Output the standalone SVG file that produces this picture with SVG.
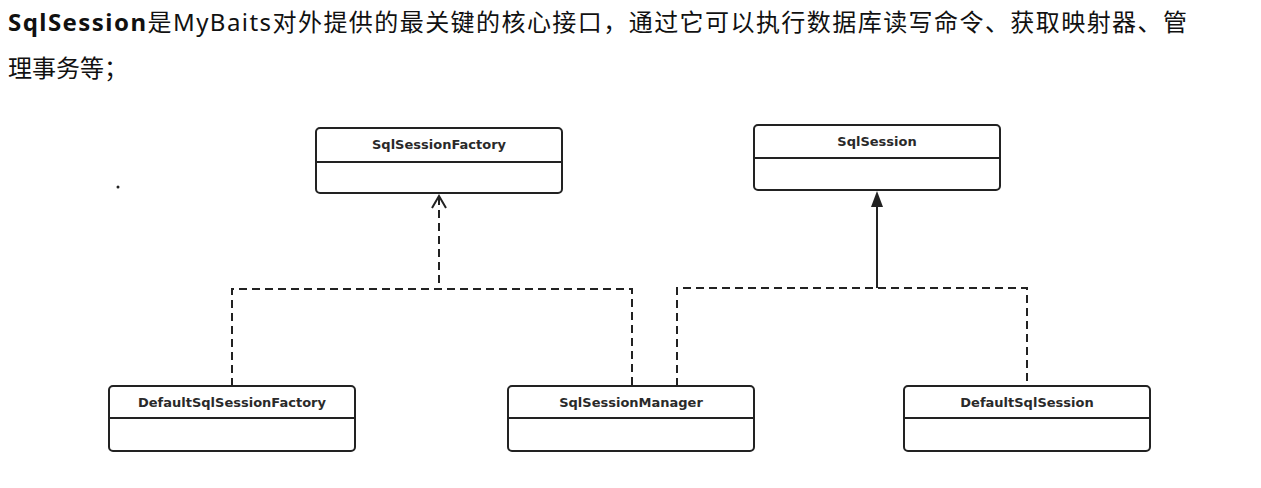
<svg xmlns="http://www.w3.org/2000/svg" width="1261" height="488" viewBox="0 0 1261 488">
<style>
.box{fill:#fff;stroke:#222;stroke-width:2}
.div{stroke:#222;stroke-width:2}
.lbl{font-family:"DejaVu Sans",Verdana,sans-serif;font-weight:bold;font-size:13px;fill:#2a2a2a;text-anchor:middle}
.title{font-family:"Noto Sans","Noto Sans CJK SC",sans-serif;font-size:24px;fill:#111}
.dash{fill:none;stroke:#222;stroke-width:2;stroke-dasharray:8 5}
.solid{fill:none;stroke:#222;stroke-width:2}
</style>
<rect width="1261" height="488" fill="#fff"/>
<g id="title">
<text class="title" x="8" y="31" textLength="1179" lengthAdjust="spacing"><tspan font-weight="bold">SqlSession</tspan>是MyBaits对外提供的最关键的核心接口，通过它可以执行数据库读写命令、获取映射器、管</text>
<text class="title" x="8" y="77">理事务等；</text>
</g>
<circle cx="118" cy="187" r="1.5" fill="#222"/>
<g id="connectors">
<path class="dash" d="M439,197 V289 M232,386 V289 H632 V386"/>
<path class="solid" d="M432,208 L439,196 L446,208"/>
<path class="solid" d="M877,205 V288"/>
<path class="dash" d="M677,386 V288 H1027 V386"/>
<polygon points="877,191 871,207 883,207" fill="#222"/>
</g>
<g id="SqlSessionFactory">
<rect class="box" x="316" y="128" width="246" height="65" rx="4"/>
<line class="div" x1="316" y1="162" x2="562" y2="162"/>
<text class="lbl" x="439" y="149">SqlSessionFactory</text>
</g>
<g id="SqlSession">
<rect class="box" x="754" y="125" width="246" height="65" rx="4"/>
<line class="div" x1="754" y1="158" x2="1000" y2="158"/>
<text class="lbl" x="877" y="146">SqlSession</text>
</g>
<g id="DefaultSqlSessionFactory">
<rect class="box" x="109" y="386" width="246" height="65" rx="4"/>
<line class="div" x1="109" y1="418" x2="355" y2="418"/>
<text class="lbl" x="232" y="407">DefaultSqlSessionFactory</text>
</g>
<g id="SqlSessionManager">
<rect class="box" x="508" y="386" width="246" height="65" rx="4"/>
<line class="div" x1="508" y1="418" x2="754" y2="418"/>
<text class="lbl" x="631" y="407">SqlSessionManager</text>
</g>
<g id="DefaultSqlSession">
<rect class="box" x="904" y="386" width="246" height="65" rx="4"/>
<line class="div" x1="904" y1="418" x2="1150" y2="418"/>
<text class="lbl" x="1027" y="407">DefaultSqlSession</text>
</g>
</svg>
